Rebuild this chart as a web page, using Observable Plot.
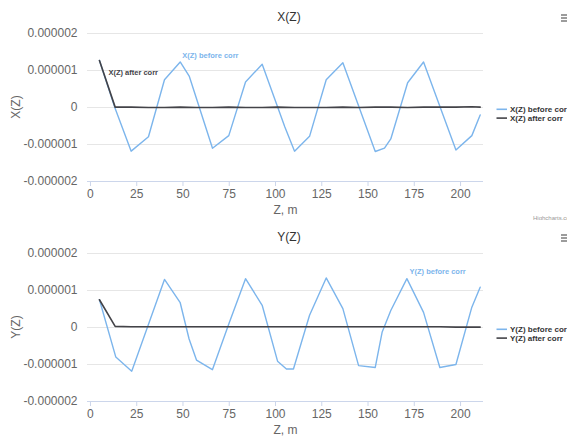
<!DOCTYPE html>
<html><head><meta charset="utf-8">
<script src="https://cdn.jsdelivr.net/npm/d3@7"></script>
<script src="https://cdn.jsdelivr.net/npm/@observablehq/plot@0.6"></script>
<style>
body{margin:0;background:#fff;font-family:"Liberation Sans",Arial,Helvetica,sans-serif;}
#c svg{display:block;}
</style></head><body><div id="c"></div>
<script>
// ---- data ----
const xTicks = [0, 25, 50, 75, 100, 125, 150, 175, 200];
const yTicks = [-2e-6, -1e-6, 0, 1e-6, 2e-6];
const yTickLabels = ["-0.000002", "-0.000001", "0", "0.000001", "0.000002"];

// X(Z) before correction
const zXBefore = [4.86, 13.35, 22.0, 31.35, 40.0, 48.5, 53.35, 65.95, 74.75, 83.8, 92.8, 105.0, 110.3, 118.4, 127.4, 136.4, 153.9, 158.9, 162.3, 171.4, 180.0, 197.5, 206.1, 210.6];
const xBefore = [1.27e-6, -0.03e-6, -1.18e-6, -0.79e-6, 0.75e-6, 1.23e-6, 0.85e-6, -1.10e-6, -0.76e-6, 0.69e-6, 1.17e-6, -0.52e-6, -1.18e-6, -0.78e-6, 0.75e-6, 1.21e-6, -1.19e-6, -1.10e-6, -0.85e-6, 0.67e-6, 1.23e-6, -1.15e-6, -0.76e-6, -0.20e-6];
// X(Z) after correction
const zAfter = [4.86, 13.35, 22.0, 31.35, 40.0, 48.5, 57.3, 65.95, 74.75, 83.8, 92.8, 101.1, 110.3, 118.4, 127.4, 136.4, 144.9, 153.9, 162.3, 171.4, 180.0, 188.8, 197.5, 206.1, 210.6];
const xAfter = [1.27e-6, 0.01e-6, 0.01e-6, 0.0, 0.0, 0.01e-6, 0.0, 0.0, 0.01e-6, 0.0, 0.0, 0.01e-6, 0.0, 0.0, 0.0, 0.01e-6, 0.0, 0.01e-6, 0.01e-6, 0.0, 0.01e-6, 0.01e-6, 0.01e-6, 0.02e-6, 0.01e-6];

// Y(Z) before correction
const zYBefore = [4.86, 13.7, 22.3, 40.0, 48.5, 53.3, 57.3, 65.9, 74.8, 83.8, 92.8, 101.1, 105.9, 109.7, 118.4, 127.4, 136.4, 144.9, 153.9, 157.6, 162.3, 171.0, 180.0, 188.8, 197.5, 206.1, 210.6];
const yBefore = [0.75e-6, -0.80e-6, -1.18e-6, 1.30e-6, 0.67e-6, -0.31e-6, -0.88e-6, -1.14e-6, 0.10e-6, 1.32e-6, 0.60e-6, -0.91e-6, -1.12e-6, -1.12e-6, 0.33e-6, 1.34e-6, 0.51e-6, -1.03e-6, -1.08e-6, -0.13e-6, 0.46e-6, 1.32e-6, 0.41e-6, -1.08e-6, -1.00e-6, 0.55e-6, 1.09e-6];
// Y(Z) after correction
const yAfter = [0.75e-6, 0.03e-6, 0.02e-6, 0.02e-6, 0.02e-6, 0.02e-6, 0.02e-6, 0.02e-6, 0.02e-6, 0.02e-6, 0.02e-6, 0.02e-6, 0.02e-6, 0.02e-6, 0.02e-6, 0.02e-6, 0.02e-6, 0.02e-6, 0.02e-6, 0.02e-6, 0.02e-6, 0.02e-6, 0.01e-6, 0.01e-6, 0.01e-6];

const seriesNamesX = ["X(Z) before corr", "X(Z) after corr"];
const seriesNamesY = ["Y(Z) before corr", "Y(Z) after corr"];

// series labels on the plot: [z, value, text, series index]
const labelsX = [[49.6, 1.41e-6, "X(Z) before corr", 0], [9.7, 0.93e-6, "X(Z) after corr", 1]];
const labelsY = [[172.4, 1.50e-6, "Y(Z) before corr", 0]];

const colors = ["#7cb5ec", "#434348"];
const FONT = '"Liberation Sans", Arial, Helvetica, sans-serif';

function toRows(zs, vs) { return zs.map((z, i) => ({z, v: vs[i]})); }

function makeChart({title, names, zB, vB, zA, vA, labels, height, marginBottom}) {
  const lab = labels.map(([z, v, t, s]) => ({z, v, t, s}));
  const plot = Plot.plot({
    width: 567, height,
    marginLeft: 87, marginRight: 84, marginTop: 33, marginBottom,
    style: {fontFamily: FONT, fontSize: "12px", background: "#fff", overflow: "hidden"},
    x: {domain: [-1.6, 212.4]},
    y: {domain: [-2e-6, 2e-6]},
    marks: [
      Plot.gridY(yTicks, {stroke: "#e6e6e6", strokeOpacity: 1}),
      Plot.ruleY([-2e-6], {stroke: "#ccd6eb"}),
      Plot.axisY(yTicks, {tickSize: 0, tickPadding: 10, fill: "#666", tickFormat: d => yTickLabels[yTicks.indexOf(d)], label: null, fontSize: 12}),
      Plot.axisX(xTicks, {tickSize: 5, tickPadding: 3, stroke: "#ccd6eb", fill: "#666", label: null, fontSize: 12}),
      Plot.line(toRows(zB, vB), {x: "z", y: "v", stroke: colors[0], strokeWidth: 1.4}),
      Plot.line(toRows(zA, vA), {x: "z", y: "v", stroke: colors[1], strokeWidth: 1.6}),
      Plot.text(lab, {x: "z", y: "v", text: "t", fill: d => colors[d.s], textAnchor: "start", fontWeight: "bold", fontSize: 7.5})
    ]
  });
  const svg = d3.select(plot);
  // title
  svg.append("text").attr("x", 289).attr("y", 20.5).attr("text-anchor", "middle")
    .attr("fill", "#333").style("font-size", "12px").style("font-family", FONT).text(title);
  // y-axis title
  svg.append("text").attr("transform", "translate(19.5,107) rotate(-90)").attr("text-anchor", "middle")
    .attr("fill", "#666").style("font-size", "12px").style("font-family", FONT).text(title);
  // x-axis title
  svg.append("text").attr("x", 285.5).attr("y", 213.5).attr("text-anchor", "middle")
    .attr("fill", "#666").style("font-size", "12px").style("font-family", FONT).text("Z, m");
  // legend
  names.forEach((n, i) => {
    const cy = 109.3 + i * 8.8;
    svg.append("line").attr("x1", 496.5).attr("x2", 507).attr("y1", cy).attr("y2", cy)
      .attr("stroke", colors[i]).attr("stroke-width", 1.6);
    svg.append("text").attr("x", 510).attr("y", cy + 2.9).attr("fill", "#333").attr("text-anchor", "start")
      .style("font-size", "8px").style("font-weight", "bold").style("font-family", FONT).text(n);
  });
  // menu icon
  [15, 18, 21].forEach(y => svg.append("line").attr("x1", 561).attr("x2", 568).attr("y1", y).attr("y2", y)
    .attr("stroke", "#666").attr("stroke-width", 1.3));
  return plot;
}

const container = document.getElementById("c");
const chartX = makeChart({title: "X(Z)", names: seriesNamesX, zB: zXBefore, vB: xBefore, zA: zAfter, vA: xAfter, labels: labelsX, height: 220, marginBottom: 39});
d3.select(chartX).append("text").attr("x", 533).attr("y", 219.5).attr("fill", "#999").attr("text-anchor", "start")
  .style("font-size", "6px").style("font-family", FONT).text("Highcharts.com");
container.appendChild(chartX);
const chartY = makeChart({title: "Y(Z)", names: seriesNamesY, zB: zYBefore, vB: yBefore, zA: zAfter, vA: yAfter, labels: labelsY, height: 217, marginBottom: 36});
container.appendChild(chartY);
</script></body></html>
